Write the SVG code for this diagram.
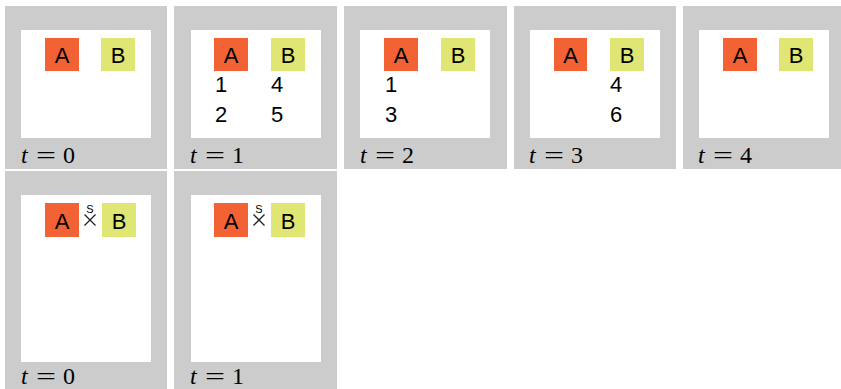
<svg xmlns="http://www.w3.org/2000/svg" width="841" height="389" viewBox="0 0 841 389">
<style>
.frame{fill:#cccccc}
.inner{fill:#ffffff}
.a{fill:#f26234}
.b{fill:#dfe673}
.lbl{font-family:"Liberation Sans","DejaVu Sans",sans-serif;font-size:22px;fill:#000;text-anchor:middle}
.num{font-family:"Liberation Sans","DejaVu Sans",sans-serif;font-size:22px;fill:#000}
.t{font-family:"Liberation Serif","DejaVu Serif",serif;font-size:24px;fill:#000}
.ti{font-style:italic}
.s{font-family:"Liberation Sans","DejaVu Sans",sans-serif;font-size:11px;fill:#000;text-anchor:middle}
.x{stroke:#222;stroke-width:1.3;fill:none}
</style>
<rect width="841" height="389" fill="#ffffff"/>
<g id="panel-r1-t0">
<rect class="frame" x="5" y="6" width="162" height="163"/>
<rect class="inner" x="21" y="30" width="130" height="108"/>
<rect class="a" x="45" y="38" width="34" height="33"/><text class="lbl" x="62" y="63">A</text>
<rect class="b" x="101" y="38" width="34" height="33"/><text class="lbl" x="118" y="63">B</text>
<text class="t" y="163"><tspan class="ti" x="21">t</tspan><tspan x="36" textLength="20" lengthAdjust="spacingAndGlyphs">=</tspan><tspan x="63">0</tspan></text>
</g>
<g id="panel-r1-t1">
<rect class="frame" x="174" y="6" width="163" height="163"/>
<rect class="inner" x="191" y="30" width="130" height="108"/>
<rect class="a" x="214" y="38" width="34" height="33"/><text class="lbl" x="231" y="63">A</text>
<rect class="b" x="271" y="38" width="34" height="33"/><text class="lbl" x="288" y="63">B</text>
<text class="num" x="215" y="92">1</text><text class="num" x="215" y="122">2</text>
<text class="num" x="271" y="92">4</text><text class="num" x="271" y="122">5</text>
<text class="t" y="163"><tspan class="ti" x="190">t</tspan><tspan x="205" textLength="20" lengthAdjust="spacingAndGlyphs">=</tspan><tspan x="232">1</tspan></text>
</g>
<g id="panel-r1-t2">
<rect class="frame" x="344" y="6" width="163" height="163"/>
<rect class="inner" x="360" y="30" width="130" height="108"/>
<rect class="a" x="384" y="38" width="34" height="33"/><text class="lbl" x="401" y="63">A</text>
<rect class="b" x="441" y="38" width="34" height="33"/><text class="lbl" x="458" y="63">B</text>
<text class="num" x="385" y="92">1</text><text class="num" x="385" y="122">3</text>
<text class="t" y="163"><tspan class="ti" x="360">t</tspan><tspan x="375" textLength="20" lengthAdjust="spacingAndGlyphs">=</tspan><tspan x="402">2</tspan></text>
</g>
<g id="panel-r1-t3">
<rect class="frame" x="514" y="6" width="162" height="163"/>
<rect class="inner" x="530" y="30" width="130" height="108"/>
<rect class="a" x="554" y="38" width="33" height="33"/><text class="lbl" x="570.5" y="63">A</text>
<rect class="b" x="610" y="38" width="34" height="33"/><text class="lbl" x="627" y="63">B</text>
<text class="num" x="610" y="92">4</text><text class="num" x="610" y="122">6</text>
<text class="t" y="163"><tspan class="ti" x="529">t</tspan><tspan x="544" textLength="20" lengthAdjust="spacingAndGlyphs">=</tspan><tspan x="571">3</tspan></text>
</g>
<g id="panel-r1-t4">
<rect class="frame" x="683" y="6" width="158" height="163"/>
<rect class="inner" x="699" y="30" width="130" height="108"/>
<rect class="a" x="723" y="38" width="34" height="33"/><text class="lbl" x="740" y="63">A</text>
<rect class="b" x="779" y="38" width="34" height="33"/><text class="lbl" x="796" y="63">B</text>
<text class="t" y="163"><tspan class="ti" x="698">t</tspan><tspan x="713" textLength="20" lengthAdjust="spacingAndGlyphs">=</tspan><tspan x="740">4</tspan></text>
</g>
<g id="panel-r2-t0">
<rect class="frame" x="5" y="171" width="162" height="218"/>
<rect class="inner" x="21" y="195" width="130" height="167"/>
<rect class="a" x="45" y="203" width="34" height="34"/><text class="lbl" x="62" y="229">A</text>
<rect class="b" x="102" y="203" width="34" height="34"/><text class="lbl" x="119" y="229">B</text>
<text class="s" x="90" y="213">S</text>
<path class="x" d="M84.5 214.5L95.5 225.5M95.5 214.5L84.5 225.5"/>
<text class="t" y="384"><tspan class="ti" x="21">t</tspan><tspan x="36" textLength="20" lengthAdjust="spacingAndGlyphs">=</tspan><tspan x="63">0</tspan></text>
</g>
<g id="panel-r2-t1">
<rect class="frame" x="174" y="171" width="163" height="218"/>
<rect class="inner" x="191" y="195" width="130" height="167"/>
<rect class="a" x="214" y="203" width="34" height="34"/><text class="lbl" x="231" y="229">A</text>
<rect class="b" x="271" y="203" width="34" height="34"/><text class="lbl" x="288" y="229">B</text>
<text class="s" x="259" y="213">S</text>
<path class="x" d="M253.5 214.5L264.5 225.5M264.5 214.5L253.5 225.5"/>
<text class="t" y="384"><tspan class="ti" x="190">t</tspan><tspan x="205" textLength="20" lengthAdjust="spacingAndGlyphs">=</tspan><tspan x="232">1</tspan></text>
</g>
</svg>
